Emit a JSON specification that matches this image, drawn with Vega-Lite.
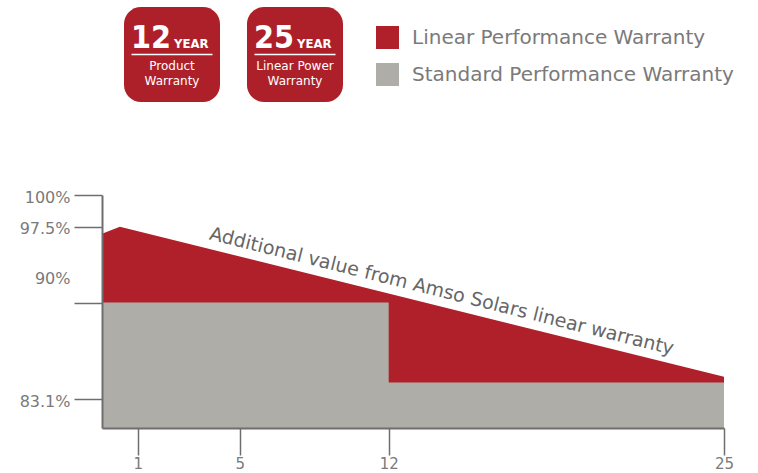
{
  "$schema": "https://vega.github.io/schema/vega-lite/v6.json",
  "padding": {"left": 19, "top": 7, "right": 0, "bottom": 0},
  "bounds": "flush",
  "spacing": 93,
  "background": "white",
  "config": {
    "view": {"stroke": null},
    "axis": {"grid": false},
    "font": "DejaVu Sans"
  },
  "vconcat": [
    {
      "width": 263,
      "height": 95,
      "data": {
        "values": [
          {"years": "12", "unit": "YEAR", "line1": "Product", "line2": "Warranty"},
          {"years": "25", "unit": "YEAR", "line1": "Linear Power", "line2": "Warranty"}
        ]
      },
      "encoding": {
        "x": {
          "field": "years",
          "type": "nominal",
          "axis": null,
          "scale": {"paddingInner": 0.2195, "paddingOuter": 0.1789}
        }
      },
      "layer": [
        {"mark": {"type": "rect", "color": "#AE2029", "cornerRadius": 17}},
        {
          "mark": {"type": "text", "align": "right", "baseline": "alphabetic", "dx": -1, "dy": -6.5, "font": "DejaVu Sans Condensed, Liberation Sans Narrow, sans-serif", "fontWeight": "bold", "fontSize": 32, "color": "white"},
          "encoding": {"text": {"field": "years"}}
        },
        {
          "mark": {"type": "text", "align": "left", "baseline": "alphabetic", "dx": 2, "dy": -6.5, "font": "DejaVu Sans Condensed, Liberation Sans Narrow, sans-serif", "fontWeight": "bold", "fontSize": 13, "color": "white"},
          "encoding": {"text": {"field": "unit"}}
        },
        {"mark": {"type": "tick", "orient": "horizontal", "size": 81, "thickness": 1.5, "color": "white", "opacity": 1}},
        {
          "mark": {"type": "text", "baseline": "middle", "dy": 11.5, "fontSize": 12, "color": "white", "font": "DejaVu Sans"},
          "encoding": {"text": {"field": "line1"}}
        },
        {
          "mark": {"type": "text", "baseline": "middle", "dy": 26.5, "fontSize": 12, "color": "white", "font": "DejaVu Sans"},
          "encoding": {"text": {"field": "line2"}}
        }
      ]
    },
    {
      "width": 622,
      "height": 233,
      "encoding": {
        "x": {
          "field": "year",
          "type": "quantitative",
          "scale": {"domain": [0, 1, 5, 12, 25], "range": [0, 35.8, 137.7, 286.7, 622], "nice": false, "zero": false},
          "axis": {
            "values": [1, 5, 12, 25],
            "title": null,
            "format": "d",
            "tickSize": 27,
            "tickWidth": 1.5,
            "tickColor": "#6e6e6e",
            "domainColor": "#6e6e6e",
            "domainWidth": 2,
            "labelFontSize": 15,
            "labelColor": "#7a7a7a",
            "labelPadding": 1,
            "labelFlush": false,
            "labelOverlap": false,
            "zindex": 1
          }
        },
        "y": {
          "field": "value",
          "type": "quantitative",
          "stack": null,
          "scale": {"domain": [80, 83.1, 90, 97.5, 100], "range": [233, 204.3, 107.5, 31.7, 0], "nice": false, "zero": false},
          "axis": {
            "values": [100, 97.5, 90, 83.1],
            "title": null,
            "labelExpr": "datum.value + '%'",
            "tickSize": 28,
            "tickWidth": 1.5,
            "tickColor": "#6e6e6e",
            "domainColor": "#6e6e6e",
            "domainWidth": 2,
            "labelFontSize": 16,
            "labelColor": "#7a7a7a",
            "labelPadding": 4,
            "labelBaseline": "middle",
            "labelOffset": {"condition": {"test": "datum.value == 90", "value": -24}, "value": 2},
            "labelOverlap": false,
            "zindex": 1
          }
        }
      },
      "layer": [
        {
          "data": {
            "values": [
              {"year": 0, "value": 96.8, "series": "Linear Performance Warranty"},
              {"year": 0.5, "value": 97.5, "series": "Linear Performance Warranty"},
              {"year": 25, "value": 84.7, "series": "Linear Performance Warranty"}
            ]
          },
          "mark": {"type": "area", "opacity": 1},
          "encoding": {
            "y2": {"datum": 80},
            "color": {
              "field": "series",
              "type": "nominal",
              "scale": {"domain": ["Linear Performance Warranty", "Standard Performance  Warranty"], "range": ["#B0202A", "#AFADA8"]},
              "legend": {
                "orient": "none",
                "legendX": 274,
                "legendY": 19,
                "title": null,
                "direction": "vertical",
                "symbolType": "square",
                "symbolSize": 529,
                "symbolStrokeWidth": 0,
                "symbolOpacity": 1,
                "labelFontSize": 20,
                "labelColor": "#7a7a7a",
                "labelFont": "DejaVu Sans",
                "labelOffset": 13,
                "labelLimit": 0,
                "rowPadding": 14,
                "padding": 0,
                "symbolOffset": 0
              }
            }
          }
        },
        {
          "data": {
            "values": [
              {"year": 0, "value": 90, "series": "Standard Performance  Warranty"},
              {"year": 12, "value": 84.3, "series": "Standard Performance  Warranty"},
              {"year": 25, "value": 84.3, "series": "Standard Performance  Warranty"}
            ]
          },
          "mark": {"type": "area", "opacity": 1, "interpolate": "step-after"},
          "encoding": {
            "y2": {"datum": 80},
            "color": {"field": "series", "type": "nominal"}
          }
        },
        {
          "data": {
            "values": [
              {"year": 14.0, "value": 90.54, "note": "Additional value from Amso Solars linear warranty"}
            ]
          },
          "mark": {"type": "text", "angle": 14, "align": "center", "baseline": "alphabetic", "fontSize": 19, "color": "#666666", "font": "DejaVu Sans"},
          "encoding": {"text": {"field": "note"}}
        }
      ]
    }
  ]
}
